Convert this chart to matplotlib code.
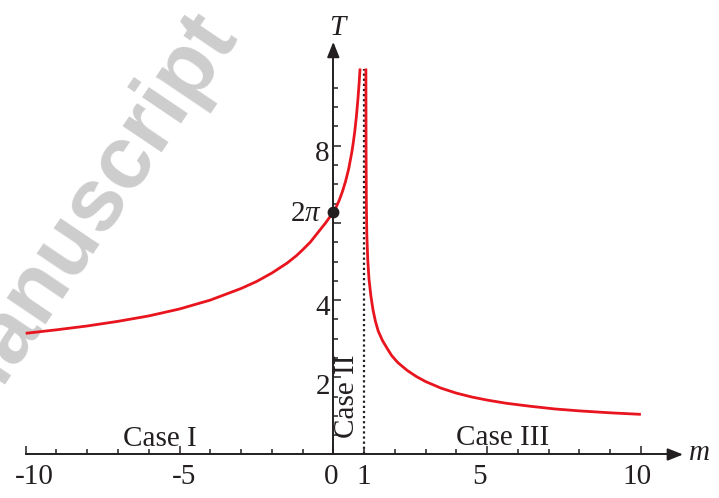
import matplotlib
matplotlib.use("Agg")
import matplotlib.pyplot as plt
import numpy as np

plt.rcParams['font.family'] = ['Liberation Serif', 'DejaVu Serif']
plt.rcParams['mathtext.fontset'] = 'custom'
plt.rcParams['mathtext.rm'] = 'Liberation Serif'
plt.rcParams['mathtext.it'] = 'Liberation Serif:italic'

# period T against parameter m, two branches either side of m = 1
left_m = [-10, -9, -8, -7, -6, -5, -4, -3, -2.5, -2, -1.5, -1.2, -1.0, -0.75,
          -0.5, -0.25, 0, 0.1, 0.2, 0.3, 0.4, 0.5, 0.6, 0.65, 0.7, 0.75, 0.8,
          0.84, 0.87]
left_T = [3.14, 3.23, 3.33, 3.45, 3.59, 3.77, 4.00, 4.30, 4.48, 4.70, 4.96, 5.15,
          5.30, 5.50, 5.75, 6.00, 6.28, 6.42, 6.60, 6.82, 7.08, 7.40, 7.82, 8.08,
          8.38, 8.75, 9.20, 9.62, 10.0]

right_m = [1.06, 1.065, 1.075, 1.09, 1.12, 1.16, 1.22, 1.29, 1.37, 1.46, 1.6,
           1.75, 1.9, 2.1, 2.4, 2.7, 3.0, 3.5, 4.0, 4.5, 5.0, 5.6, 6.4, 7.2,
           8.0, 9.0, 10.0]
right_T = [10.0, 8.0, 6.5, 5.7, 5.05, 4.55, 4.12, 3.75, 3.45, 3.20, 2.95,
           2.75, 2.56, 2.38, 2.18, 2.02, 1.89, 1.72, 1.59, 1.49, 1.41, 1.33, 1.25, 1.18,
           1.13, 1.08, 1.04]

x_major = [-10, -5, 0, 5, 10]
x_minor = [v for v in range(-9, 10) if v % 5 != 0]
x_labels = ['-10', '-5', '0', '1', '5', '10']
x_label_pos = [-9.71, -4.85, -0.06, 0.975, 4.74, 9.86]

y_major = [2, 4, 6, 8]
y_minor = list(np.arange(0.5, 10.0, 0.5))
y_labels = ['2', '4', '8']
y_label_pos = [1.76, 3.80, 7.78]

two_pi = 2 * np.pi

ink = '#231f20'
red = '#e8141e'

fig = plt.figure(figsize=(7.19, 4.98), dpi=100)
ax = fig.add_axes([0, 0, 1, 1])
ax.set_xlim(-10.836, 12.54)
ax.set_ylim(-1.127, 11.775)

# watermark
ax.text(0.3296, 0.9345, 'Manuscript', transform=fig.transFigure, rotation=56,
        rotation_mode='anchor', ha='right', va='baseline', fontsize=64,
        fontweight='bold', family='Liberation Sans', color='#cdcdcd', zorder=0)

for s in ['top', 'right']:
    ax.spines[s].set_visible(False)
ax.spines['left'].set_position(('data', 0))
ax.spines['bottom'].set_position(('data', 0))
ax.spines['left'].set_bounds(0, 10.5)
ax.spines['bottom'].set_bounds(-10, 11.0)
for s in ['left', 'bottom']:
    ax.spines[s].set_linewidth(1.4)
    ax.spines[s].set_color(ink)

arrow = dict(arrowstyle='-|>,head_length=0.4,head_width=0.16', color=ink,
             lw=1.4, mutation_scale=23, shrinkA=0, shrinkB=0)
ax.annotate('', xy=(11.37, 0), xytext=(10.9, 0), arrowprops=arrow)
ax.annotate('', xy=(0, 10.69), xytext=(0, 10.3), arrowprops=arrow)

ax.set_xticks(x_major)
ax.set_xticks(x_minor, minor=True)
ax.set_yticks(y_major)
ax.set_yticks(y_minor, minor=True)
ax.tick_params(which='both', direction='in', color=ink, width=1.1,
               labelbottom=False, labelleft=False)
ax.tick_params(which='major', length=6)
ax.tick_params(which='minor', length=3.5)

# curve branches
ax.plot(left_m, left_T, color=red, lw=2.0, solid_capstyle='butt',
        solid_joinstyle='round', zorder=3)
ax.plot(right_m, right_T, color=red, lw=2.0, solid_capstyle='butt',
        solid_joinstyle='round', zorder=3)

# asymptote at m = 1
ax.plot([1, 1], [0, 10], color=ink, lw=1.6, ls=(0, (1, 1.3)), zorder=2)

# point T = 2*pi at m = 0
ax.plot(0, two_pi, 'o', color=ink, ms=7.5, zorder=4, clip_on=False)

fs = 21
for lab, xp in zip(x_labels, x_label_pos):
    ax.text(xp, -0.575, lab, ha='center', va='center', fontsize=fs, color=ink)
for lab, yp in zip(y_labels, y_label_pos):
    ax.text(-0.11, yp, lab, ha='right', va='center', fontsize=fs, color=ink)
ax.text(-0.38, two_pi - 0.05, r'$2\pi$', ha='right', va='center', fontsize=fs, color=ink)

ax.text(0.19, 11.06, r'$T$', ha='center', va='center', fontsize=fs, color=ink)
ax.text(11.89, -0.14, r'$m$', ha='center', va='baseline', fontsize=fs, color=ink)

ax.text(-5.63, 0.23, 'Case I', ha='center', va='baseline', fontsize=fs, color=ink)
ax.text(5.5, 0.25, 'Case III', ha='center', va='baseline', fontsize=fs, color=ink)
ax.text(0.44, 1.52, 'Case II', ha='center', va='center', rotation=90,
        fontsize=fs, color=ink)

fig.savefig('out.png', dpi=100)
